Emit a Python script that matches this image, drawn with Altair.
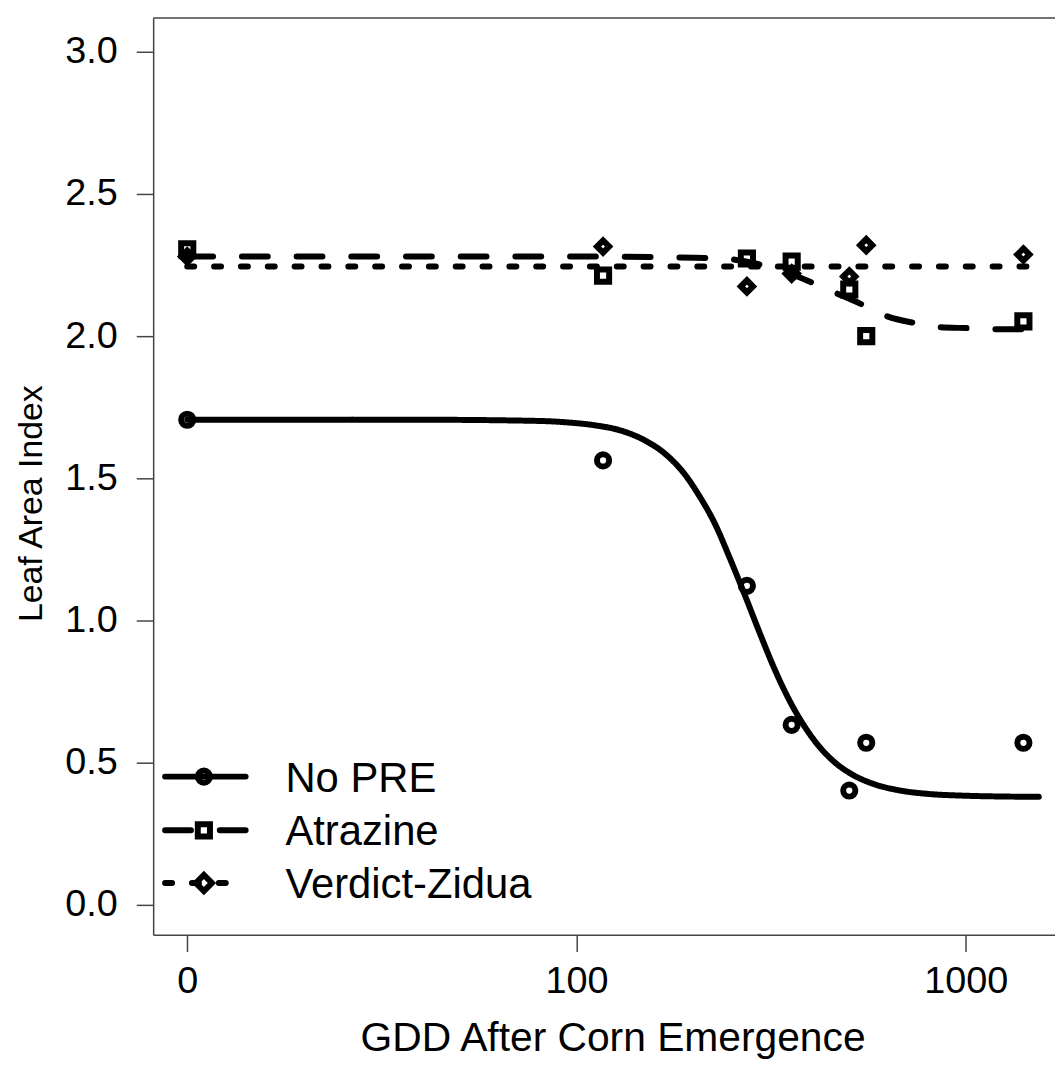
import altair as alt
import pandas as pd

# ---- data ----
series_names = ["No PRE", "Atrazine", "Verdict-Zidua"]
gdd = [0, 117, 274, 357, 502, 555, 1406]
no_pre_lai = [1.706, 1.563, 1.122, 0.633, 0.402, 0.570, 0.570]
atrazine_lai = [2.305, 2.213, 2.273, 2.262, 2.164, 2.000, 2.052]
verdict_lai = [2.280, 2.315, 2.175, 2.220, 2.210, 2.320, 2.287]

no_pre_fit_gdd = [0, 40, 79, 94, 112, 130, 150, 169, 190, 207, 227, 247, 270, 295, 322,
                  352, 385, 420, 459, 516, 580, 672, 802, 985, 1247, 1540]
no_pre_fit_lai = [1.706, 1.706, 1.702, 1.697, 1.686, 1.668, 1.633, 1.586, 1.513, 1.437, 1.339,
                  1.223, 1.093, 0.959, 0.832, 0.720, 0.628, 0.557, 0.503, 0.455, 0.425, 0.403,
                  0.390, 0.384, 0.381, 0.380]
atrazine_fit_gdd = [0, 100, 201, 255, 309, 342, 408, 467, 554, 627, 748, 861, 1028, 1175, 1541]
atrazine_fit_lai = [2.280, 2.280, 2.276, 2.269, 2.245, 2.227, 2.185, 2.150, 2.105, 2.070, 2.045,
                    2.031, 2.028, 2.024, 2.024]
verdict_fit_gdd = [0, 1541]
verdict_fit_lai = [2.245, 2.245]

x_ticks = [10, 100, 1000]
y_ticks = [0.0, 0.5, 1.0, 1.5, 2.0, 2.5, 3.0]

# ---- tables ----
pts = pd.DataFrame(
    [{"series": s, "gdd": g, "lai": v}
     for s, vals in zip(series_names, [no_pre_lai, atrazine_lai, verdict_lai])
     for g, v in zip(gdd, vals)]
)
fits = pd.DataFrame(
    [{"series": s, "gdd": g, "lai": v, "order": i}
     for s, gg, vv in zip(series_names,
                          [no_pre_fit_gdd, atrazine_fit_gdd, verdict_fit_gdd],
                          [no_pre_fit_lai, atrazine_fit_lai, verdict_fit_lai])
     for i, (g, v) in enumerate(zip(gg, vv))]
)

W, H = 907, 922
FONT = "Liberation Sans"
dash_range = [[1, 0], [26, 29], [7, 20]]
shape_range = ["circle", "square", "diamond"]
size_range = [150, 150, 260]

xscale = alt.Scale(type="log", domain=[8.175, 1695], nice=False)
yscale = alt.Scale(domain=[-0.105, 3.119], nice=False, zero=False)

xaxis = alt.Axis(
    values=x_ticks,
    labelExpr="datum.value == 10 ? '0' : datum.value == 100 ? '100' : '1000'",
    title="GDD After Corn Emergence",
    grid=False, tickSize=17, labelPadding=11, titlePadding=18, titleX=462,
    labelFontSize=38, titleFontSize=41, labelFont=FONT, titleFont=FONT,
    labelColor="black", titleColor="black", titleFontWeight="normal",
    domainColor="#444", tickColor="#444", domainWidth=1.5, tickWidth=1.5,
    labelFlush=False,
)
yaxis = alt.Axis(
    values=y_ticks, format=".1f", title="Leaf Area Index",
    grid=False, tickSize=17, labelPadding=19, titlePadding=16, titleY=488,
    labelFontSize=38, titleFontSize=34, labelFont=FONT, titleFont=FONT,
    labelColor="black", titleColor="black", titleFontWeight="normal",
    domainColor="#444", tickColor="#444", domainWidth=1.5, tickWidth=1.5,
    labelFlush=False,
)

base_x = alt.X("gx:Q", scale=xscale, axis=xaxis)
base_y = alt.Y("lai:Q", scale=yscale, axis=yaxis)

lines = alt.Chart(fits).transform_calculate(
    gx="max(datum.gdd, 10)"
).mark_line(color="black", strokeWidth=6, strokeCap="round", strokeJoin="round",
            interpolate="monotone").encode(
    x=base_x, y=base_y,
    strokeDash=alt.StrokeDash("series:N", scale=alt.Scale(domain=series_names, range=dash_range), legend=None),
    detail="series:N",
    order="order:Q",
)

points = alt.Chart(pts).transform_calculate(
    gx="max(datum.gdd, 10)"
).mark_point(filled=False, color="black", strokeWidth=6, opacity=1).encode(
    x=base_x, y=base_y,
    shape=alt.Shape("series:N", scale=alt.Scale(domain=series_names, range=shape_range), legend=None),
    size=alt.Size("series:N", scale=alt.Scale(domain=series_names, range=size_range), legend=None),
)

top_border = alt.Chart(pd.DataFrame({"k": [0]})).mark_rule(color="#444", strokeWidth=1.5).encode(
    x=alt.value(0), x2=alt.value(W), y=alt.value(0)
)

# ---- manual legend (bottom-left, inside the plot) ----
legend_layers = []
row_y = [763, 817, 870]
for i, name in enumerate(series_names):
    one = pd.DataFrame({"series": [name]})
    legend_layers.append(
        alt.Chart(one).mark_rule(color="black", strokeWidth=6, strokeCap="round",
                                 strokeDash=dash_range[i]).encode(
            x=alt.value(12), x2=alt.value(93), y=alt.value(row_y[i])
        )
    )
    legend_layers.append(
        alt.Chart(one).mark_point(filled=False, color="black", strokeWidth=6, opacity=1,
                                  shape=shape_range[i], size=size_range[i]).encode(
            x=alt.value(51), y=alt.value(row_y[i])
        )
    )
    legend_layers.append(
        alt.Chart(one).mark_text(align="left", baseline="middle", fontSize=42, font=FONT,
                                 color="black").encode(
            x=alt.value(133), y=alt.value(row_y[i] + 2), text="series:N"
        )
    )

chart = alt.layer(lines, points, top_border, *legend_layers).properties(
    width=W, height=H,
    autosize=alt.AutoSizeParams(type="none"),
    padding={"left": 146, "top": 7, "right": 0, "bottom": 125},
    background="white",
).configure_view(stroke=None)

chart.save("out.html", embed_options={"renderer": "svg", "actions": False})
